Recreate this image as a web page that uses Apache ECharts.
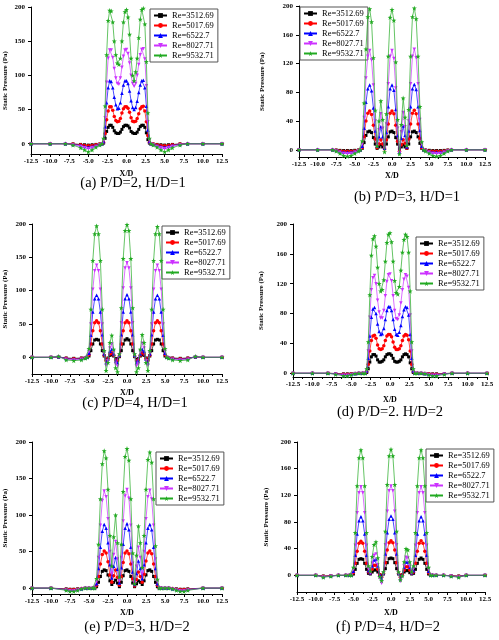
<!DOCTYPE html>
<html><head><meta charset="utf-8">
<script src="https://cdn.jsdelivr.net/npm/echarts@6/dist/echarts.min.js"></script>
<style>html,body{margin:0;padding:0;background:#fff}#c{width:499px;height:640px}</style>
</head><body><div id="c"></div>
<script>
// ---------- data ----------
const names = ['Re=3512.69','Re=5017.69','Re=6522.7','Re=8027.71','Re=9532.71'];
const xTickLabels = ['-12.5','-10.0','-7.5','-5.0','-2.5','0.0','2.5','5.0','7.5','10.0','12.5'];
const yTicks50 = [0,50,100,150,200];
const yTicks40 = [0,40,80,120,160,200];
const captions = ['(a) P/D=2, H/D=1','(b) P/D=3, H/D=1','(c) P/D=4, H/D=1','(d) P/D=2. H/D=2','(e) P/D=3, H/D=2','(f) P/D=4, H/D=2'];

// X/D positions, P/D=2
const xPD2 = [-12.5,-10,-8,-7,-6,-5.5,-5,-4.5,-4,-3.5,-3.2,-3.0,-2.8,-2.6,-2.4,-2.2,-2.0,-1.8,-1.6,-1.4,-1.2,-1.0,-0.8,-0.6,-0.4,-0.2,0,0.2,0.4,0.6,0.8,1.0,1.2,1.4,1.6,1.8,2.0,2.2,2.4,2.6,2.8,3.0,3.2,3.5,4,4.5,5,5.5,6,7,8,10,12.5];
// X/D positions, P/D=3
const xPD3 = [-12.5,-10,-8,-7.5,-7,-6.5,-6,-5.5,-5,-4.5,-4.25,-4,-3.75,-3.5,-3.25,-3,-2.75,-2.5,-2.25,-2,-1.75,-1.5,-1.25,-1,-0.75,-0.5,-0.25,0,0.25,0.5,0.75,1,1.25,1.5,1.75,2,2.25,2.5,2.75,3,3.25,3.5,3.75,4,4.25,4.5,5,5.5,6,6.5,7,7.5,8,10,12.5];
// X/D positions, P/D=4
const xPD4 = [-12.5,-10,-9,-8,-7,-6,-5.5,-5.25,-5,-4.75,-4.5,-4.25,-4,-3.75,-3.5,-3.25,-3,-2.75,-2.5,-2.25,-2,-1.75,-1.5,-1.25,-1,-0.75,-0.5,-0.25,0,0.25,0.5,0.75,1,1.25,1.5,1.75,2,2.25,2.5,2.75,3,3.25,3.5,3.75,4,4.25,4.5,4.75,5,5.25,5.5,6,7,8,9,10,12.5];

// (a) P/D=2, H/D=1
const aBlack = [0,0,0,-0.3,-1,-1.5,-2,-1.5,-1,-0.5, 0,1,8,18,24,27,27,24,19,16,15,15,17,21,25,27,27,26,23,18,16,15,15,17,21,25,27,27,24,16,6,1,0, -0.5,-1,-1.5,-2,-1.5,-1,-0.3,0,0,0];
const aRed   = [0,0,0,-0.5,-1.5,-2.5,-3,-2.5,-1.5,-0.5, 0,2,15,35,48,54,54,49,40,34,32,33,37,45,51,54,54,52,46,38,33,32,33,37,44,51,54,55,48,32,12,2,0, -0.5,-1.5,-2.5,-3,-2.5,-1.5,-0.5,0,0,0];
const aBlue  = [0,0,0,-1,-2.5,-4,-5,-4,-2.5,-1, 0,3,25,60,82,92,91,82,68,57,51,52,60,74,86,92,92,88,77,63,53,50,53,62,75,86,92,93,82,55,20,3,0, -1,-2.5,-4,-5,-4,-2.5,-1,0,0,0];
const aMag   = [0,0,0,-1.5,-4,-6,-7.5,-6,-4,-1.5, 0,5,38,90,125,137,137,126,110,96,88,87,96,112,128,137,138,132,118,100,88,84,88,100,116,130,138,139,124,85,32,5,0, -1.5,-4,-6,-7.5,-6,-4,-1.5,0,0,0];
const aGreen = [0,0,0,-2,-6,-9,-12,-9,-5,-2, 0,8,55,130,180,195,194,178,150,130,118,116,125,150,178,193,196,185,160,125,100,92,105,125,155,182,196,198,175,120,45,8,0, -2,-5,-9,-12,-9,-6,-2,0,0,0];

// (b) P/D=3, H/D=1
const bBlack = [0,0,0,-0.3,-0.8,-1,-1,-1,-0.7,-0.3, 0,2,10,20,25,26,24,17,8,2,4,7,4,2,8,18,25,26,24,17,8,2,4,7,4,2,8,18,25,26,24,18,9,2,0, -0.3,-0.7,-1,-1,-1,-0.8,-0.3,0,0,0];
const bRed   = [0,0,0,-0.5,-1.5,-2,-2,-2,-1.5,-0.5, 0,3,18,40,51,54,49,34,15,3,8,14,8,1,14,36,51,54,50,34,12,-2,7,14,9,2,15,36,51,55,50,36,16,3,0, -0.5,-1.5,-2,-2,-2,-1.5,-0.5,0,0,0];
const bBlue  = [0,0,0,-1,-2.5,-3.5,-3.5,-3.5,-2.5,-1, 0,5,30,66,85,90,82,58,26,5,18,32,18,2,24,60,85,90,83,56,20,-3,16,33,20,4,26,60,85,91,84,60,27,5,0, -1,-2.5,-3.5,-3.5,-3.5,-2.5,-1,0,0,0];
const bMag   = [0,0,0,-1.5,-3.5,-5,-5.5,-5,-3.5,-1.5, 0,8,45,100,130,138,125,90,40,6,28,50,30,2,36,92,130,138,127,86,30,-4,25,52,32,5,40,92,130,140,128,92,42,8,0, -1.5,-3.5,-5,-5.5,-5,-3.5,-1.5,0,0,0];
const bGreen = [0,0,0,-2,-5,-8,-9,-8,-5,-2, 0,12,65,140,185,196,178,128,55,5,40,68,42,-3,50,130,184,195,180,122,42,-6,35,72,45,6,56,130,185,197,182,130,60,11,0, -2,-5,-8,-9,-8,-5,-2,0,0,0];

// (c) P/D=4, H/D=1
const cBlack = [0,0,0.5,-1,-1.5,-1,-0.5, 0,2,10,20,26,27,26,20,10,2,-3,-1,3,4,2,-2,-3,1,10,20,26,28,26,20,10,1,-3,-2,2,4,3,-1,-3,2,10,20,26,27,26,20,10,2,0, -0.5,-1,-1.5,-1,0.5,0,0];
const cRed   = [0,0,0.5,-1.5,-2,-1.5,-0.5, 0,4,20,40,52,55,52,40,20,3,-5,-2,5,7,3,-4,-5,2,20,40,52,55,52,40,20,2,-5,-4,3,7,5,-2,-5,3,20,40,52,55,52,40,20,4,0, -0.5,-1.5,-2,-1.5,0.5,0,0];
const cBlue  = [0,0,1,-2,-3,-2,-1, 0,6,33,68,88,93,88,68,34,5,-8,-3,9,12,5,-6,-8,3,34,68,88,94,88,68,34,3,-8,-6,5,12,9,-3,-8,5,34,68,88,93,88,68,33,6,0, -1,-2,-3,-2,1,0,0];
const cMag   = [0,0,1,-3,-4,-3,-1, 0,9,50,102,130,138,130,102,50,7,-12,-5,14,20,8,-10,-13,4,52,104,134,142,134,104,52,4,-13,-10,8,21,14,-5,-12,7,50,102,130,138,130,102,50,9,0, -1,-3,-4,-3,1,0,0];
const cGreen = [0,0,1.5,-4,-5,-4,-1.5, 0,13,72,145,185,197,185,145,72,10,-20,-8,22,33,12,-16,-22,5,74,148,190,199,190,148,74,5,-22,-16,12,34,22,-8,-20,10,72,145,185,196,185,145,72,13,0, -1.5,-4,-5,-4,1.5,0,0];

// (d) P/D=2, H/D=2
const dBlack = [0,0,0,-0.3,-0.8,-0.8,-0.5,-0.2,0,0, 0,1,6,15,22,25,25,23,18,15,15,16,18,22,25,26,26,24,20,16,15,15,16,18,22,25,26,25,22,14,6,1,0, 0,0,-0.2,-0.5,-0.8,-0.8,-0.3,0,0,0];
const dRed   = [0,0,0,-0.5,-1.2,-1.2,-0.8,-0.3,0,0, 0,2,12,30,44,50,51,47,38,33,32,33,37,44,50,52,52,49,42,35,32,32,33,37,44,50,52,51,45,30,12,2,0, 0,0,-0.3,-0.8,-1.2,-1.2,-0.5,0,0,0];
const dBlue  = [0,0,0,-0.8,-2,-2,-1.2,-0.5,0,0, 0,3,20,50,75,86,88,80,66,56,52,53,60,72,84,89,89,84,72,59,52,51,55,64,76,85,89,88,78,52,20,3,0, 0,0,-0.5,-1.2,-2,-2,-0.8,0,0,0];
const dMag   = [0,0,0,-1,-2.5,-2.5,-1.5,-0.5,0,0, 0,4,30,75,112,128,131,120,98,82,74,74,84,104,123,132,133,124,104,84,73,72,78,94,112,126,132,130,115,78,30,4,0, 0,0,-0.5,-1.5,-2.5,-2.5,-1,0,0,0];
const dGreen = [0,0,0,-1.5,-3.5,-3.5,-2,-0.5,0,0, 0,6,42,105,158,180,184,170,142,120,110,112,125,150,175,186,188,176,150,124,108,106,116,138,162,179,186,183,162,110,42,6,0, 0,0,-0.5,-2,-3.5,-3.5,-1.5,0,0,0];

// (e) P/D=3, H/D=2
const eBlack = [0,0,-1,-1.5,-1.5,-1,-0.5,0,0,0, 0,2,8,16,23,25,24,18,10,5,8,11,7,2,8,17,24,25,23,16,7,2,6,10,8,5,10,18,24,25,23,16,8,2,0, 0,0,0,-0.5,-1,-1.5,-1.5,-1,0,0];
const eRed   = [0,0,-1.5,-2,-2,-1.5,-0.5,0,0,0, 0,4,16,33,46,51,48,36,18,8,17,25,15,4,16,35,48,51,47,33,13,3,12,22,16,8,19,37,48,51,47,33,16,4,0, 0,0,0,-0.5,-1.5,-2,-2,-1.5,0,0];
const eBlue  = [0,0,-2,-3,-3,-2,-1,0,0,0, 0,6,27,56,78,87,82,62,32,14,30,42,26,7,28,60,82,88,80,56,22,5,20,37,27,13,32,62,82,87,80,56,27,6,0, 0,0,0,-1,-2,-3,-3,-2,0,0];
const eMag   = [0,0,-2.5,-3.5,-3.5,-2.5,-1,0,0,0, 0,9,42,86,120,133,125,95,50,20,46,64,40,10,42,92,126,135,123,86,34,7,30,56,42,20,50,95,125,134,122,86,40,9,0, 0,0,0,-1,-2.5,-3.5,-3.5,-2.5,0,0];
const eGreen = [0,0,-3,-4.5,-4.5,-3,-1,0,0,0, 0,13,60,122,170,188,178,135,72,30,70,100,62,15,60,132,180,191,175,122,48,6,45,85,62,28,72,135,176,186,172,122,58,12,0, 0,0,0,-1,-3,-4.5,-4.5,-3,0,0];

// (f) P/D=4, H/D=2
const fBlack = [0,0,-1,-0.5,0,0,0, 0,2,9,18,24,25,24,18,9,3,2,5,8,8,5,1,-1,2,10,19,25,26,25,19,10,2,-1,1,5,7,7,4,2,3,9,18,24,26,24,18,9,2,0, 0,0,0,-0.5,-1,0,0];
const fRed   = [0,0,-1.5,-0.5,0,0,0, 0,4,18,36,48,51,48,36,18,5,3,9,15,15,9,1,-3,3,19,38,49,52,49,38,19,3,-3,1,8,13,13,8,3,5,18,36,48,52,48,36,18,4,0, 0,0,0,-0.5,-1.5,0,0];
const fBlue  = [0,0,-2,-1,0,0,0, 0,6,30,62,82,88,82,62,30,7,4,14,23,24,14,1,-5,4,32,64,84,89,84,64,32,4,-5,1,12,20,20,12,4,7,30,62,82,88,82,62,30,6,0, 0,0,0,-1,-2,0,0];
const fMag   = [0,0,-2.5,-1,0,0,0, 0,9,45,94,124,133,124,94,45,10,4,18,30,32,16,-4,-12,3,46,96,127,134,127,96,46,3,-9,-2,14,27,26,14,4,10,45,94,124,133,124,94,45,9,0, 0,0,0,-1,-2.5,0,0];
const fGreen = [0,0,-3,-1.5,0,0,0, 0,12,64,134,176,188,176,134,64,14,6,28,46,50,26,-2,-8,5,66,136,179,189,179,136,66,5,-7,-1,20,40,38,20,5,14,64,134,176,188,176,134,64,12,0, 0,0,0,-1.5,-3,0,0];

// ---------- layout / style ----------
const panels = [
  {x:xPD2, ys:[aBlack,aRed,aBlue,aMag,aGreen], yMin:-15, ticks:yTicks50, grid:{left:31,right:277,top:7,bottom:486}, yGap:22, xGap:16, leg:{left:150,top:9}, cap:[133,183]},
  {x:xPD3, ys:[bBlack,bRed,bBlue,bMag,bGreen], yMin:-10, ticks:yTicks40, grid:{left:299,right:14,top:6,bottom:483}, yGap:33, xGap:15, leg:{left:300,top:7}, cap:[407,197]},
  {x:xPD4, ys:[cBlack,cRed,cBlue,cMag,cGreen], yMin:-25, ticks:yTicks50, grid:{left:32,right:277,top:224,bottom:266}, yGap:23, xGap:15, leg:{left:162,top:226}, cap:[135,403]},
  {x:xPD2, ys:[dBlack,dRed,dBlue,dMag,dGreen], yMin:-5, ticks:yTicks40, grid:{left:293,right:12,top:224,bottom:263}, yGap:28, xGap:19, leg:{left:416,top:237}, cap:[390,412]},
  {x:xPD3, ys:[eBlack,eRed,eBlue,eMag,eGreen], yMin:-8, ticks:yTicks50, grid:{left:32,right:277,top:442,bottom:46}, yGap:23, xGap:15, leg:{left:156,top:452}, cap:[137,627]},
  {x:xPD4, ys:[fBlack,fRed,fBlue,fMag,fGreen], yMin:-25, ticks:yTicks40, grid:{left:297,right:14,top:442,bottom:48}, yGap:27, xGap:17, leg:{left:426,top:449}, cap:[388,627]}
];
const COLORS = ['#000000','#ff0000','#0000ff','#cc33ff','#22aa22'];
const STAR = 'path://M0,-10L2.35,-3.24L9.51,-3.09L3.8,1.24L5.88,8.09L0,4L-5.88,8.09L-3.8,1.24L-9.51,-3.09L-2.35,-3.24Z';
const SYMS = ['rect','circle','triangle','triangle',STAR];
const ROTS = [0,0,0,180,0];
const SIZES = [3,3.5,3.5,3.5,5];
const FONT = '"Liberation Serif","Times New Roman",serif';

panels.forEach((p,pi)=>p.ys.forEach((y,k)=>{ if(y.length!==p.x.length) throw new Error('len mismatch panel '+pi+' series '+k+': '+y.length+' vs '+p.x.length); }));

const grid=[], xAxis=[], yAxis=[], series=[], legend=[], graphic=[];
panels.forEach((p,gi)=>{
  grid.push(Object.assign({containLabel:false}, p.grid));
  xAxis.push({type:'value', gridIndex:gi, min:-12.5, max:12.5, interval:2.5,
    name:'X/D', nameLocation:'middle', nameGap:p.xGap,
    nameTextStyle:{fontFamily:FONT, fontWeight:'bold', fontSize:8, color:'#000'},
    axisLine:{onZero:false, lineStyle:{color:'#000', width:1}},
    axisTick:{length:3, lineStyle:{color:'#000'}},
    minorTick:{show:true, splitNumber:2, length:2, lineStyle:{color:'#000'}},
    axisLabel:{fontFamily:FONT, fontWeight:'bold', fontSize:7, color:'#000', margin:4,
      formatter:v=>{const i=Math.round((v+12.5)/2.5); return xTickLabels[i]!==undefined?xTickLabels[i]:'';}},
    splitLine:{show:false}});
  yAxis.push({type:'value', gridIndex:gi, min:p.yMin, max:200,
    name:'Static Pressure (Pa)', nameLocation:'middle', nameGap:p.yGap, nameRotate:90,
    nameTextStyle:{fontFamily:FONT, fontWeight:'bold', fontSize:7, color:'#000'},
    axisLine:{show:true, onZero:false, lineStyle:{color:'#000', width:1}},
    axisTick:{show:true, length:3, customValues:p.ticks, lineStyle:{color:'#000'}},
    axisLabel:{fontFamily:FONT, fontWeight:'bold', fontSize:7, color:'#000', margin:6, customValues:p.ticks},
    splitLine:{show:false}});
  p.ys.forEach((ys,k)=>{
    series.push({type:'line', name:names[k], xAxisIndex:gi, yAxisIndex:gi,
      data:p.x.map((x,i)=>[x, ys[i]]),
      symbol:SYMS[k], symbolRotate:ROTS[k], symbolSize:SIZES[k], showSymbol:true, showAllSymbol:true,
      lineStyle:{width:0.7, color:COLORS[k]}, itemStyle:{color:COLORS[k]},
      emphasis:{disabled:true}, silent:true, z:2+k});
  });
  legend.push({data:names, orient:'vertical', left:p.leg.left, top:p.leg.top,
    itemWidth:13, itemHeight:6, itemGap:1, padding:[2,4,2,3],
    borderColor:'#555', borderWidth:1, backgroundColor:'#fff', selectedMode:false,
    textStyle:{fontFamily:FONT, fontSize:8.5, color:'#000'}});
  graphic.push({type:'text', x:p.cap[0], y:p.cap[1], silent:true,
    style:{text:captions[gi], fontFamily:FONT, fontSize:14.5, fill:'#000', align:'center', verticalAlign:'middle'}});
});

const chart = echarts.init(document.getElementById('c'), null, {renderer:'canvas'});
chart.setOption({animation:false, backgroundColor:'#fff', textStyle:{fontFamily:FONT},
  grid, xAxis, yAxis, series, legend, graphic});
</script></body></html>
